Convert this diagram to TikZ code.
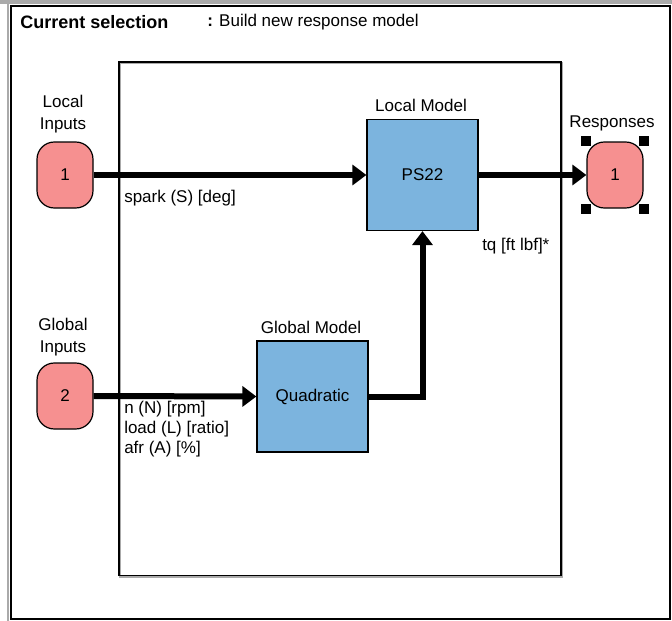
\documentclass[tikz,border=0pt]{standalone}
\usepackage{fontspec}
\setmainfont{Liberation Sans}
\usetikzlibrary{arrows.meta}
\definecolor{pinkfill}{RGB}{246,144,144}
\definecolor{bluefill}{RGB}{124,180,222}
\definecolor{shadowgray}{RGB}{170,170,170}
\tikzset{
  px/.style={x=0.75pt,y=-0.75pt},
  txt/.style={inner sep=0pt,font=\fontsize{12.75pt}{15pt}\selectfont},
  portbox/.style={draw=black,line width=0.9pt,fill=pinkfill,rounded corners=13pt,minimum width=42pt,minimum height=49.5pt,inner sep=0pt,font=\fontsize{12.75pt}{15pt}\selectfont},
  modelbox/.style={draw=black,line width=0.9pt,fill=bluefill,minimum width=83.25pt,minimum height=83.25pt,inner sep=0pt,font=\fontsize{12.75pt}{15pt}\selectfont},
  flow/.style={line width=4.5pt,-{Triangle[length=10.5pt,width=15pt]}},
  handle/.style={fill=black,minimum size=7.5pt,inner sep=0pt},
  frame/.style={draw=black,line width=1.5pt},
}
\begin{document}
\begin{tikzpicture}[px]
\useasboundingbox (0,0) rectangle (672,621);
% outer window frame
\fill[shadowgray] (0,0) rectangle (672,4);
\fill[shadowgray] (7,4) rectangle (9,621);
\draw[frame] (10.5,5.5) rectangle (669.5,619);
% inner frame with shadow
\draw[shadowgray,line width=1pt] (120,63) rectangle (562,577);
\draw[black,line width=1.2pt] (119,62) rectangle (561,575.5);
% header
\node[txt,anchor=west,font=\fontsize{13.5pt}{15pt}\selectfont\bfseries] (cur) at (20,22) {Current selection};
\node[txt,anchor=west] (sel) at (207,22) {\textbf{:} Build new response model};
% port nodes
\node[portbox] (li) at (65,175) {1};
\node[txt,align=center,anchor=south] (lilab) at (63,133) {Local\\[1.5pt]Inputs};
\node[portbox] (gi) at (65,396) {2};
\node[txt,align=center,anchor=south] (gilab) at (63,356) {Global\\[1.5pt]Inputs};
\node[portbox] (resp) at (615,175) {1};
\node[txt] (resplab) at (612,123) {Responses};
% selection handles
\node[handle] (h1) at (resp.north west) {};
\node[handle] (h2) at (resp.north east) {};
\node[handle] (h3) at (resp.south west) {};
\node[handle] (h4) at (resp.south east) {};
% model boxes
\node[modelbox] (ps) at (422.5,175) {PS22};
\node[txt] (pslab) at (421,105) {Local Model};
\node[modelbox] (quad) at (312.5,396.5) {Quadratic};
\node[txt] (quadlab) at (311,327) {Global Model};
% connectors
\draw[flow] (li.east) -- (ps.west);
\draw[flow] (ps.east) -- (resp.west);
\draw[flow] (gi.east) -- (quad.west);
\draw[flow] (quad.east) -| (ps.south);
% signal labels
\node[txt,anchor=west] (spark) at (124,198) {spark (S) [deg]};
\node[txt,anchor=west] (tq) at (482,246) {tq [ft lbf]*};
\node[txt,anchor=west] (n) at (124,409) {n (N) [rpm]};
\node[txt,anchor=west] (load) at (124,429) {load (L) [ratio]};
\node[txt,anchor=west] (afr) at (124,449) {afr (A) [\%]};
\end{tikzpicture}
\end{document}
